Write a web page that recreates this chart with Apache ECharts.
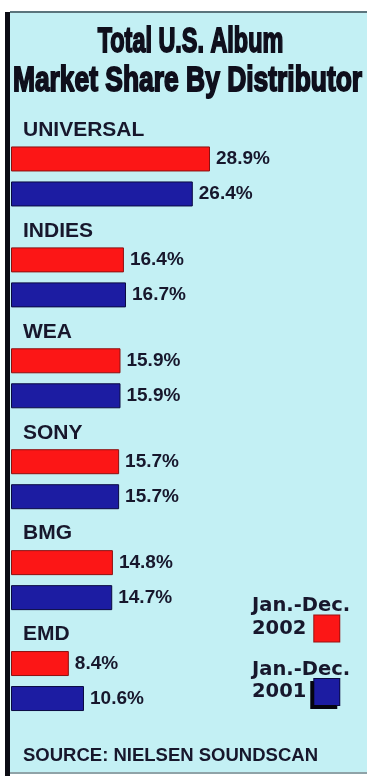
<!DOCTYPE html>
<html>
<head>
<meta charset="utf-8">
<script src="https://cdn.jsdelivr.net/npm/echarts@6/dist/echarts.min.js"></script>
<style>
html,body{margin:0;padding:0;background:#fff;}
#chart{width:367px;height:776px;}
</style>
</head>
<body>
<div id="chart"></div>
<script>
const categories = ['UNIVERSAL', 'INDIES', 'WEA', 'SONY', 'BMG', 'EMD'];
const share2002 = [28.9, 16.4, 15.9, 15.7, 14.8, 8.4];
const share2001 = [26.4, 16.7, 15.9, 15.7, 14.7, 10.6];
const seriesNames = ['2002', '2001'];
const legendPrefix = 'Jan.-Dec.';
const titleLines = ['Total U.S. Album', 'Market Share By Distributor'];
const sourceText = 'SOURCE: NIELSEN SOUNDSCAN';

const RED = '#fc1616';
const BLUE = '#1c1ca2';
const INK = '#17172c';
const BG = '#c3f0f4';
const SANS = '"Liberation Sans", Arial, sans-serif';

const chart = echarts.init(document.getElementById('chart'), null, {renderer: 'canvas'});

const barLabel = {
  show: true,
  position: 'right',
  distance: 6,
  formatter: p => p.value + '%',
  fontFamily: SANS,
  fontWeight: 'bold',
  fontSize: 19,
  color: INK
};

const titleStyle = {font: 'bold 30px "Liberation Sans", Arial, sans-serif', fill: '#0f0f1c',
  stroke: '#0f0f1c', lineWidth: 1.6, textAlign: 'center', textVerticalAlign: 'middle'};

chart.setOption({
  backgroundColor: '#ffffff',
  animation: false,
  graphic: [
    {type: 'rect', z: -10, shape: {x: 10, y: 12, width: 357, height: 762}, style: {fill: BG}},
    {type: 'rect', z: -9, shape: {x: 10, y: 11, width: 357, height: 2}, style: {fill: '#5b747c'}},
    {type: 'rect', z: -9, shape: {x: 10, y: 772, width: 357, height: 2}, style: {fill: '#8fa3a8'}},
    {type: 'rect', z: -9, shape: {x: 5, y: 12, width: 5, height: 764}, style: {fill: '#0c0c14'}},
    {type: 'text', x: 190.5, y: 42, scaleX: 0.78, scaleY: 1.17,
      style: Object.assign({text: titleLines[0]}, titleStyle)},
    {type: 'text', x: 187.5, y: 81, scaleX: 0.88, scaleY: 1.17,
      style: Object.assign({text: titleLines[1]}, titleStyle)}
  ],
  title: [{
    text: sourceText,
    left: 23,
    top: 746,
    padding: 0,
    textStyle: {fontFamily: SANS, fontWeight: 'bold', fontSize: 18.5, color: INK}
  }],
  legend: {
    orient: 'vertical',
    left: 241,
    top: 591,
    itemWidth: 0,
    itemHeight: 0,
    itemGap: 17,
    selectedMode: false,
    data: seriesNames,
    formatter: name => '{t|' + legendPrefix + '}\n{y|' + name + '}{sp|}{' + (name === seriesNames[0] ? 'r' : 'b') + '|}',
    textStyle: {
      rich: {
        t: {fontFamily: '"DejaVu Sans", sans-serif', fontWeight: 'bold', fontSize: 19.5, lineHeight: 19, color: INK},
        y: {fontFamily: '"DejaVu Sans", sans-serif', fontWeight: 'bold', fontSize: 19.5, lineHeight: 26, color: INK},
        sp: {width: 8},
        r: {width: 25, height: 26, lineHeight: 26, backgroundColor: RED, borderColor: '#9a1010', borderWidth: 1},
        b: {width: 25, height: 26, lineHeight: 26, backgroundColor: BLUE, borderColor: '#0a0a40', borderWidth: 1,
            shadowColor: '#050510', shadowOffsetX: -3, shadowOffsetY: 3, shadowBlur: 0}
      }
    }
  },
  grid: {left: 11, right: 11.7, top: 126, bottom: 44.5, containLabel: false},
  xAxis: {type: 'value', min: 0, max: 50, show: false},
  yAxis: {
    type: 'category',
    inverse: true,
    data: categories,
    axisLine: {show: false},
    axisTick: {show: false},
    splitLine: {show: false},
    axisLabel: {
      inside: true,
      margin: 12,
      interval: 0,
      showMinLabel: true,
      showMaxLabel: true,
      hideOverlap: false,
      formatter: v => '{n|' + v + '}\n{g| }',
      rich: {
        n: {fontFamily: SANS, fontWeight: 'bold', fontSize: 21, lineHeight: 21, color: INK},
        g: {fontSize: 1, lineHeight: 93, height: 93}
      }
    }
  },
  series: [
    {name: seriesNames[0], type: 'bar', data: share2002, barWidth: 25, barGap: '40%',
      itemStyle: {color: RED, borderColor: '#8c1010', borderWidth: 1}, label: barLabel},
    {name: seriesNames[1], type: 'bar', data: share2001, barWidth: 25, barGap: '40%',
      itemStyle: {color: BLUE, borderColor: '#0a0a40', borderWidth: 1}, label: barLabel}
  ]
});
</script>
</body>
</html>
